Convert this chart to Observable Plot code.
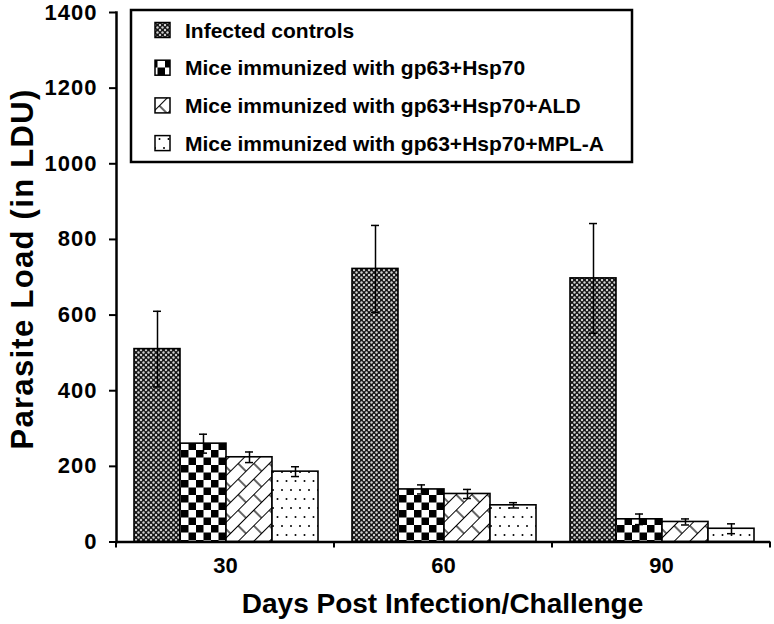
<!DOCTYPE html>
<html><head><meta charset="utf-8">
<script src="https://cdn.jsdelivr.net/npm/d3@7"></script>
<script src="https://cdn.jsdelivr.net/npm/@observablehq/plot@0.6"></script>
<style>
body{margin:0;background:#fff;}
svg{font-family:"Liberation Sans",Arial,sans-serif;}
</style></head><body><div id="chart"></div>
<script>
const days = ["30", "60", "90"];
const groups = [
  "Infected controls",
  "Mice immunized with gp63+Hsp70",
  "Mice immunized with gp63+Hsp70+ALD",
  "Mice immunized with gp63+Hsp70+MPL-A"
];
const infected = [510, 722, 697];
const infectedErr = [100, 115, 145];
const hsp70 = [260, 139, 60];
const hsp70Err = [25, 12, 14];
const ald = [224, 127, 53];
const aldErr = [14, 12, 8];
const mpla = [186, 97, 35];
const mplaErr = [13, 7, 13];
const yTicks = [0, 200, 400, 600, 800, 1000, 1200, 1400];

const series = [infected, hsp70, ald, mpla];
const errs = [infectedErr, hsp70Err, aldErr, mplaErr];
const data = [];
days.forEach((d, i) => groups.forEach((g, j) => data.push({day: d, group: g, value: series[j][i], err: errs[j][i]})));

const patIds = groups.map((g, i) => `pat${i}`);

const plot = Plot.plot({
  width: 774,
  height: 624,
  marginLeft: 115,
  marginRight: 4,
  marginTop: 12,
  marginBottom: 82.5,
  fx: {domain: days, padding: 0, label: null},
  x: {domain: groups, padding: 0, insetLeft: 16.5, insetRight: 14.5, axis: null},
  y: {domain: [0, 1400], label: null},
  color: {type: "ordinal", domain: groups, range: patIds.map(id => `url(#${id})`)},
  marks: [
    Plot.barY(data, {fx: "day", x: "group", y: "value", fill: "group", stroke: "black", strokeWidth: 1.6}),
    Plot.ruleX(data, {fx: "day", x: "group", y1: d => d.value - d.err, y2: d => d.value + d.err, stroke: "black", strokeWidth: 1.5}),
    Plot.tickY(data, {fx: "day", x: "group", y: d => d.value + d.err, inset: 19, stroke: "black", strokeWidth: 1.5}),
    Plot.tickY(data, {fx: "day", x: "group", y: d => d.value - d.err, inset: 19, stroke: "black", strokeWidth: 1.5}),
    Plot.ruleY([0], {stroke: "black", strokeWidth: 2.5}),
    Plot.frame({anchor: "left", facetAnchor: "left", stroke: "black", strokeWidth: 2.5}),
    Plot.axisY({ticks: yTicks, tickSize: 7, tickPadding: 12, fontSize: 22, fontWeight: "bold", strokeWidth: 2, label: null, tickFormat: d => String(d)}),
    Plot.axisFx({anchor: "bottom", tickSize: 0, tickPadding: 15, fontSize: 22, fontWeight: "bold", label: null})
  ]
});

const svg = d3.select(plot);
svg.style("overflow", "visible");
svg.selectAll('[aria-label="y-axis tick label"] text').attr("letter-spacing", "1px");
const defs = svg.insert("defs", ":first-child");

// Pattern 0: dense diamond mesh (dark)
const p0 = defs.append("pattern").attr("id", patIds[0]).attr("patternUnits", "userSpaceOnUse").attr("width", 5).attr("height", 5);
p0.append("rect").attr("width", 5).attr("height", 5).attr("fill", "#141414");
[[0,0],[5,0],[0,5],[5,5],[2.5,2.5]].forEach(([cx, cy]) => p0.append("circle").attr("cx", cx).attr("cy", cy).attr("r", 1.2).attr("fill", "#d0d0d0"));

// Pattern 1: checkerboard
const p1 = defs.append("pattern").attr("id", patIds[1]).attr("patternUnits", "userSpaceOnUse").attr("width", 15).attr("height", 15);
p1.append("rect").attr("width", 15).attr("height", 15).attr("fill", "#fff");
p1.append("rect").attr("width", 7.5).attr("height", 7.5).attr("fill", "#000");
p1.append("rect").attr("x", 7.5).attr("y", 7.5).attr("width", 7.5).attr("height", 7.5).attr("fill", "#000");

// Pattern 2: diagonal brick
const p2 = defs.append("pattern").attr("id", patIds[2]).attr("patternUnits", "userSpaceOnUse").attr("width", 22).attr("height", 22).attr("patternTransform", "rotate(-45)");
p2.append("rect").attr("width", 22).attr("height", 22).attr("fill", "#fff");
p2.append("path").attr("d", "M0,0.5H22M0,11.5H22M5,0.5V11.5M16,11.5V22").attr("stroke", "#000").attr("stroke-width", 1.2).attr("fill", "none");

// Pattern 3: sparse dots
const p3 = defs.append("pattern").attr("id", patIds[3]).attr("patternUnits", "userSpaceOnUse").attr("width", 9).attr("height", 18);
p3.append("rect").attr("width", 9).attr("height", 18).attr("fill", "#fff");
p3.append("circle").attr("cx", 2).attr("cy", 4).attr("r", 1).attr("fill", "#000");
p3.append("circle").attr("cx", 6.5).attr("cy", 13).attr("r", 1).attr("fill", "#000");

// boundary ticks on the x axis
const fx = plot.scale("fx");
const yS = plot.scale("y");
const y0 = yS.apply(0);
const edges = days.map(d => fx.apply(d)).concat([fx.apply(days[days.length - 1]) + fx.bandwidth]);
edges.forEach(x => svg.append("line").attr("x1", x).attr("x2", x).attr("y1", y0).attr("y2", y0 + 6).attr("stroke", "black").attr("stroke-width", 2));

// axis titles
svg.append("text").attr("x", (fx.range[0] + fx.range[1]) / 2).attr("y", 613)
  .attr("text-anchor", "middle").attr("font-size", 28).attr("font-weight", "bold").attr("fill", "black")
  .text("Days Post Infection/Challenge");
svg.append("text").attr("transform", "translate(33,269) rotate(-90)")
  .attr("text-anchor", "middle").attr("font-size", 31).attr("font-weight", "bold").attr("fill", "black")
  .attr("letter-spacing", "1.3px")
  .text("Parasite Load (in LDU)");

// legend
const lg = svg.append("g").attr("text-anchor", "start");
lg.append("rect").attr("x", 131).attr("y", 10).attr("width", 501).attr("height", 152)
  .attr("fill", "white").attr("stroke", "black").attr("stroke-width", 2.5);
groups.forEach((g, i) => {
  const cy = 30 + i * 37.7;
  lg.append("rect").attr("x", 155).attr("y", cy - 7.5).attr("width", 15).attr("height", 15)
    .attr("fill", `url(#${patIds[i]})`).attr("stroke", "black").attr("stroke-width", 1.5);
  lg.append("text").attr("x", 185).attr("y", cy).attr("dy", "0.36em").attr("text-anchor", "start")
    .attr("font-size", 21).attr("font-weight", "bold").attr("fill", "black").text(g);
});

document.getElementById("chart").appendChild(plot);
</script>
</body></html>
